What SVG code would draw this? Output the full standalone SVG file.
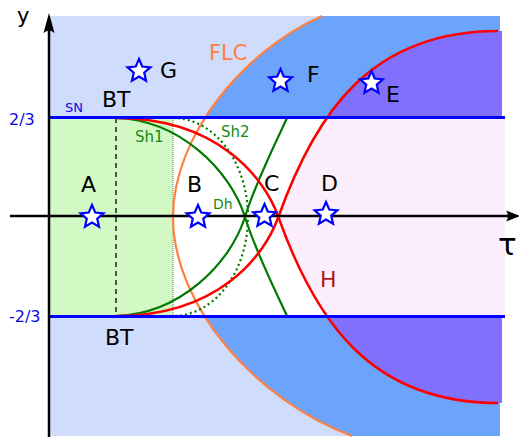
<svg xmlns="http://www.w3.org/2000/svg" width="519" height="438" viewBox="0 0 519 438">
<defs>
<style>
text{font-family:"DejaVu Sans","Liberation Sans",sans-serif;}
.lbl{font-size:22px;fill:#000;}
.blue{fill:#0a0ae6;}
.grn{fill:#168a16;}
.star{fill:#fff;stroke:#0000ff;stroke-width:2.2;stroke-linejoin:miter;}
.red{fill:none;stroke:#ff0000;stroke-width:2.5;}
.gline{fill:none;stroke:#007a00;stroke-width:2.2;}
</style>
<path id="star" d="M0,-12 L3.23,-4.45 L11.41,-3.71 L5.23,1.7 L7.05,9.71 L0,5.5 L-7.05,9.71 L-5.23,1.7 L-11.41,-3.71 L-3.23,-4.45 Z"/>
<path id="rightH" d="M278,218 C315,114 370,31 498,31 L502,31 L502,403 L498,403 C370,403 315,320 278,216 Z"/>
<clipPath id="band"><rect x="49" y="117.5" width="456" height="199"/></clipPath>
</defs>

<g id="regions">
<rect x="49" y="16" width="451" height="420" fill="#6ca4fc"/>
<path d="M49,16 L322,16 C245,50 173,135 173,217 C173,305 255,400 352,436 L49,436 Z" fill="#d0dcfc"/>
<use href="#rightH" fill="#8070fc"/>
<rect x="49" y="117.5" width="456" height="199" fill="#fff"/>
<use href="#rightH" fill="#fdeefd" transform="translate(0,0)" clip-path="url(#band)"/>
<rect x="496" y="117.5" width="9" height="199" fill="#fdeefd"/>
<rect x="49" y="117.5" width="124" height="199" fill="#d2f9c4"/>
</g>

<g id="connectors">
<line x1="116" y1="118" x2="116" y2="316" stroke="#000" stroke-width="1.3" stroke-dasharray="5,4"/>
<line x1="173" y1="118" x2="173" y2="316" stroke="#555" stroke-width="0.8" stroke-dasharray="1,1"/>
<path d="M322,16 C245,50 173,135 173,217 C173,305 255,400 352,436" fill="none" stroke="#ff8040" stroke-width="2.2"/>
<path class="gline" d="M173,118 A75,99 0 0 1 173,316" stroke-dasharray="2,3" stroke-width="2.4"/>
<path class="gline" d="M116,118 C180,120 230,170 245,217 C255,250 275,290 287,316"/>
<path class="gline" d="M116,316 C180,314 230,264 245,217 C255,184 275,144 287,118"/>
<path class="red" d="M116,118 C220,118 265,180 278,216 C315,320 370,403 498,403"/>
<path class="red" d="M116,316 C220,316 265,254 278,218 C315,114 370,31 498,31"/>
<line x1="49" y1="117.5" x2="505" y2="117.5" stroke="#0000ff" stroke-width="3"/>
<line x1="49" y1="316.5" x2="505" y2="316.5" stroke="#0000ff" stroke-width="3"/>
<line x1="10" y1="216" x2="512" y2="216" stroke="#000" stroke-width="2.5"/>
<path d="M520,216 L506,210.5 Q510,216 506,221.5 Z" fill="#000"/>
<line x1="49" y1="437" x2="49" y2="26" stroke="#000" stroke-width="2.5"/>
<path d="M49,13 L43.5,33 Q49,28 54.5,33 Z" fill="#000"/>
</g>

<g id="stars">
<use href="#star" class="star" x="139" y="71"/>
<use href="#star" class="star" x="92" y="217"/>
<use href="#star" class="star" x="198" y="217"/>
<use href="#star" class="star" x="264.5" y="216"/>
<use href="#star" class="star" x="326" y="214"/>
<use href="#star" class="star" x="280.5" y="81"/>
<use href="#star" class="star" x="371.5" y="83"/>
</g>

<g id="labels">
<text x="17" y="23" font-size="21">y</text>
<text x="498" y="255" font-size="31">τ</text>
<text x="9" y="125" font-size="16" class="blue">2/3</text>
<text x="9" y="322" font-size="16" class="blue">-2/3</text>
<text x="65" y="112" font-size="13" class="blue">SN</text>
<text x="102" y="107" class="lbl" font-size="23">BT</text>
<text x="105" y="345" class="lbl" font-size="23">BT</text>
<text x="160" y="78" class="lbl">G</text>
<text x="209" y="60" font-size="21" fill="#ff8040">FLC</text>
<text x="307" y="82" class="lbl">F</text>
<text x="386" y="102" class="lbl">E</text>
<text x="81" y="192" class="lbl">A</text>
<text x="187" y="192" class="lbl">B</text>
<text x="264" y="191" class="lbl">C</text>
<text x="321" y="191" class="lbl">D</text>
<text x="320" y="287" class="lbl" fill="#b01818" style="fill:#b01818">H</text>
<text x="135" y="142" font-size="15" class="grn">Sh1</text>
<text x="221" y="137" font-size="15" class="grn">Sh2</text>
<text x="213" y="209" font-size="14" class="grn">Dh</text>
</g>
</svg>
